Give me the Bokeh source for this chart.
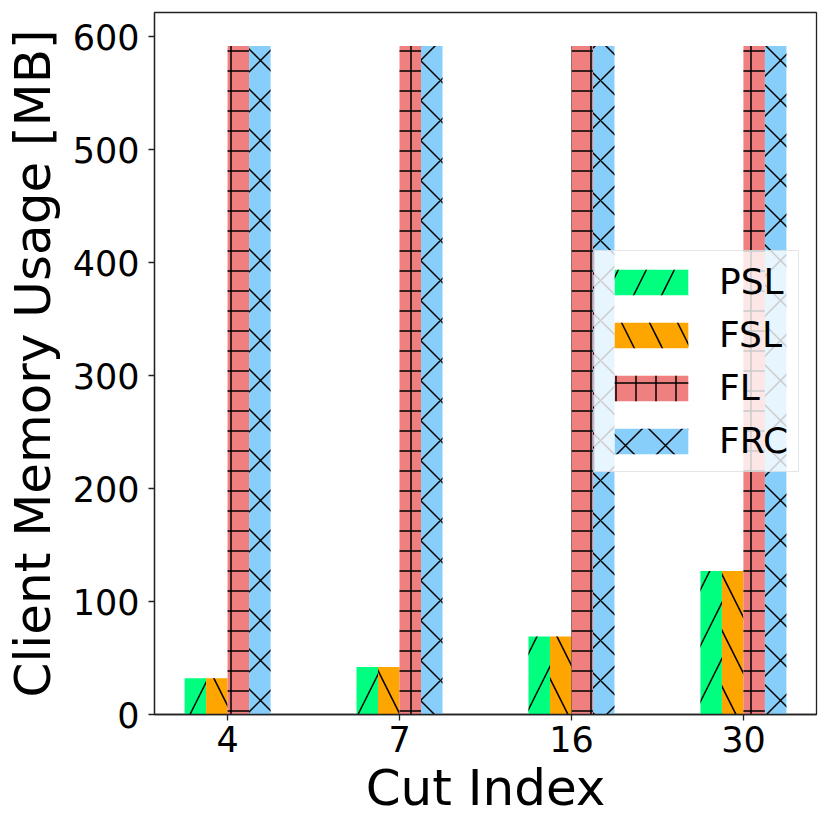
from bokeh.plotting import figure
from bokeh.models import ColumnDataSource, Range1d, FixedTicker, Legend, LegendItem
from bokeh.transform import dodge
from bokeh.embed import file_html
from bokeh.resources import INLINE

categories = ["4", "7", "16", "30"]
psl = [32, 42, 69, 127]
fsl = [32, 42, 69, 127]
fl = [592, 592, 592, 592]
frc = [592, 592, 592, 592]
series_names = ["PSL", "FSL", "FL", "FRC"]
y_ticks = [0, 100, 200, 300, 400, 500, 600]

FONT = "DejaVu Sans"
bar_w = 0.125

src = ColumnDataSource(dict(x=list(range(len(categories))), PSL=psl, FSL=fsl, FL=fl, FRC=frc))

p = figure(width=823, height=823, output_backend="svg", toolbar_location=None,
           x_range=Range1d(-0.425, 3.425), y_range=Range1d(0, 621.6),
           min_border_left=153, min_border_right=8, min_border_top=12, min_border_bottom=109,
           frame_width=662, frame_height=702)

styles = [
    ("PSL", "#00FF7F", "/", 56, -1.5),
    ("FSL", "#FFA500", "\\", 56, -0.5),
    ("FL", "#F08080", "+", 20, 0.5),
    ("FRC", "#87CEFA", "x", 40, 1.5),
]
items = []
for name, color, hatch, hs, k in styles:
    r = p.vbar(x=dodge("x", k * bar_w, range=p.x_range), top=name, width=bar_w, source=src,
               fill_color=color, line_color=None, hatch_pattern=hatch, hatch_color="black",
               hatch_scale=hs, hatch_weight=1.5)
    items.append(LegendItem(label=name, renderers=[r]))

p.xgrid.visible = False
p.ygrid.visible = False
p.outline_line_color = "#222222"
p.outline_line_width = 1.3

p.xaxis.ticker = FixedTicker(ticks=list(range(len(categories))))
p.xaxis.major_label_overrides = {i: c for i, c in enumerate(categories)}
p.yaxis.ticker = FixedTicker(ticks=y_ticks)
for ax in (p.xaxis, p.yaxis):
    ax.minor_tick_line_color = None
    ax.major_tick_in = 0
    ax.major_tick_out = 6
    ax.major_tick_line_width = 1.3
    ax.axis_line_width = 1.3
    ax.axis_line_color = "#222222"
    ax.major_tick_line_color = "#222222"
    ax.major_label_text_font = FONT
    ax.major_label_text_font_size = "35px"
    ax.major_label_text_color = "black"
    ax.axis_label_text_font = FONT
    ax.axis_label_text_font_size = "50px"
    ax.axis_label_text_font_style = "normal"
    ax.axis_label_text_color = "black"

p.xaxis.major_label_standoff = 5
p.yaxis.major_label_standoff = 9
p.xaxis.axis_label = "Cut Index"
p.yaxis.axis_label = "Client Memory Usage [MB]"
p.xaxis.axis_label_standoff = 4
p.yaxis.axis_label_standoff = 8

legend = Legend(items=items, location=(440, 242), orientation="vertical")
legend.label_text_font = FONT
legend.label_text_font_size = "36px"
legend.label_text_color = "black"
legend.glyph_width = 92
legend.glyph_height = 32
legend.label_standoff = 22
legend.padding = 10
legend.margin = 0
legend.spacing = 12
legend.border_line_color = "#cccccc"
legend.border_line_width = 1.3
legend.background_fill_alpha = 0.8
p.add_layout(legend, "center")

open("out.html", "w").write(file_html(p, INLINE))
